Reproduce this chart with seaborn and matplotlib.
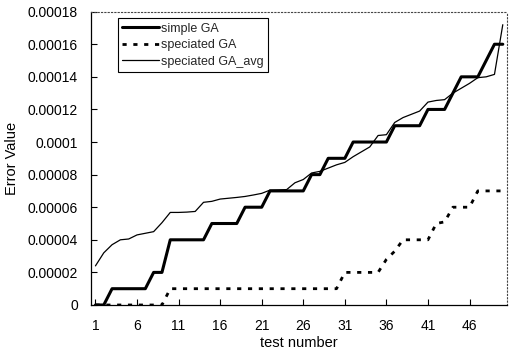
import numpy as np
import pandas as pd
import matplotlib
matplotlib.use("Agg")
import matplotlib.pyplot as plt
import seaborn as sns

# ---- data (values in units of 1e-5) ----
test_number = list(range(1, 51))
simple_ga = [0, 0, 1, 1, 1, 1, 1, 2, 2, 4,
             4, 4, 4, 4, 5, 5, 5, 5, 6, 6,
             6, 7, 7, 7, 7, 7, 8, 8, 9, 9,
             9, 10, 10, 10, 10, 10, 11, 11, 11, 11,
             12, 12, 12, 13, 14, 14, 14, 15, 16, 16]
speciated_ga = [0, 0, 0, 0, 0, 0, 0, 0, 0, 1,
                1, 1, 1, 1, 1, 1, 1, 1, 1, 1,
                1, 1, 1, 1, 1, 1, 1, 1, 1, 1,
                2, 2, 2, 2, 2, 2.8, 3.3, 4, 4, 4,
                4, 5, 5.1, 6, 6, 6, 7, 7, 7, 7]
speciated_ga_avg = [2.4, 3.2, 3.7, 4.0, 4.05, 4.3, 4.4, 4.5, 5.05, 5.68,
                    5.68, 5.7, 5.74, 6.3, 6.36, 6.5, 6.55, 6.6, 6.66, 6.75,
                    6.85, 7.05, 7.06, 7.08, 7.5, 7.7, 8.1, 8.2, 8.4, 8.6,
                    8.75, 9.1, 9.4, 9.7, 10.4, 10.45, 11.2, 11.5, 11.7, 11.9,
                    12.45, 12.55, 12.6, 13.0, 13.3, 13.6, 13.95, 14.0, 14.15, 17.2]
series_labels = ["simple GA", "speciated GA", "speciated GA_avg"]
x_ticks = [1, 6, 11, 16, 21, 26, 31, 36, 41, 46]
y_ticks = [0, 0.00002, 0.00004, 0.00006, 0.00008, 0.0001,
           0.00012, 0.00014, 0.00016, 0.00018]
y_tick_labels = ["0", "0.00002", "0.00004", "0.00006", "0.00008", "0.0001",
                 "0.00012", "0.00014", "0.00016", "0.00018"]

scale = 1e-5
df = pd.DataFrame({
    "test": test_number,
    "simple": np.array(simple_ga) * scale,
    "spec": np.array(speciated_ga) * scale,
    "avg": np.array(speciated_ga_avg) * scale,
})

sns.set_theme(style="white")
plt.rcParams["font.family"] = ["Liberation Sans", "DejaVu Sans"]

fig = plt.figure(figsize=(5.10, 3.53), dpi=100)
ax = fig.add_axes([0.179, 0.136, 0.815, 0.831])

sns.lineplot(data=df, x="test", y="simple", ax=ax, color="black",
             linewidth=2.2, label=series_labels[0])
sns.lineplot(data=df, x="test", y="spec", ax=ax, color="black",
             linewidth=2.0, linestyle=(0, (1.5, 2.4)), label=series_labels[1])
sns.lineplot(data=df, x="test", y="avg", ax=ax, color="black",
             linewidth=0.9, label=series_labels[2])

ax.set_xlim(0.5, 50.5)
ax.set_ylim(0, 0.00018)
ax.set_xticks(x_ticks)
ax.set_xticklabels([str(t) for t in x_ticks])
ax.set_yticks(y_ticks)
ax.set_yticklabels(y_tick_labels)
ax.tick_params(axis="both", direction="in", length=4, width=0.8,
               colors="black", labelsize=10, bottom=True, left=True)
ax.tick_params(axis="x", pad=10)
ax.tick_params(axis="y", pad=9.5)

ax.set_xlabel("test number", fontsize=10.5, color="black", labelpad=2)
ax.set_ylabel("Error Value", fontsize=10.5, color="black", labelpad=6)

for side in ["left", "bottom"]:
    ax.spines[side].set_color("black")
    ax.spines[side].set_linewidth(0.9)
for side in ["top", "right"]:
    ax.spines[side].set_color("#444444")
    ax.spines[side].set_linewidth(0.8)
    ax.spines[side].set_linestyle((0, (1, 2)))

leg = ax.legend(loc="upper left", bbox_to_anchor=(0.064, 0.977),
                borderaxespad=0, fontsize=9, frameon=True, fancybox=False,
                framealpha=1, edgecolor="black", handlelength=2.9,
                handletextpad=0.2, labelspacing=0.35, borderpad=0.35)
leg.get_frame().set_linewidth(0.8)

fig.savefig("out.png", dpi=100)
